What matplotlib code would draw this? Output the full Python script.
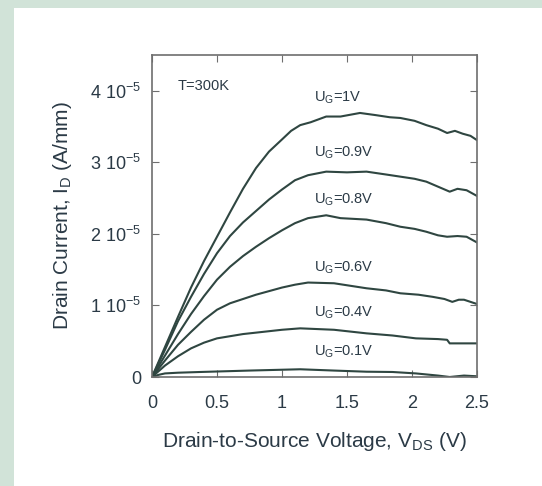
import numpy as np
import matplotlib
matplotlib.use("Agg")
import matplotlib.pyplot as plt
from matplotlib.patches import Rectangle

plt.rcParams['font.family'] = ['Liberation Sans', 'DejaVu Sans']
plt.rcParams['mathtext.fontset'] = 'custom'
plt.rcParams['mathtext.rm'] = 'Liberation Sans'
plt.rcParams['mathtext.it'] = 'Liberation Sans:italic'

# drain current curves, values in units of 1e-5 A/mm
x_1v = [0, 0.1, 0.2, 0.3, 0.4, 0.5, 0.6, 0.7, 0.8, 0.9, 1.0, 1.07, 1.14, 1.22, 1.34, 1.45, 1.60, 1.72, 1.83, 1.91, 2.02, 2.11, 2.20, 2.27, 2.33, 2.39, 2.45, 2.5]
y_1v = [0, 0.42, 0.84, 1.25, 1.62, 1.96, 2.30, 2.63, 2.92, 3.15, 3.32, 3.44, 3.52, 3.56, 3.64, 3.64, 3.69, 3.66, 3.63, 3.62, 3.58, 3.52, 3.47, 3.41, 3.44, 3.40, 3.37, 3.31]

x_09v = [0, 0.1, 0.2, 0.3, 0.4, 0.5, 0.6, 0.7, 0.8, 0.9, 1.0, 1.1, 1.2, 1.34, 1.50, 1.65, 1.80, 1.91, 2.02, 2.11, 2.20, 2.29, 2.35, 2.42, 2.5]
y_09v = [0, 0.38, 0.78, 1.12, 1.44, 1.73, 1.97, 2.16, 2.32, 2.48, 2.62, 2.75, 2.82, 2.87, 2.86, 2.87, 2.83, 2.80, 2.77, 2.73, 2.66, 2.59, 2.63, 2.61, 2.53]

x_08v = [0, 0.1, 0.2, 0.3, 0.4, 0.5, 0.6, 0.7, 0.8, 0.9, 1.0, 1.1, 1.2, 1.34, 1.45, 1.65, 1.80, 1.91, 2.02, 2.11, 2.20, 2.27, 2.35, 2.42, 2.5]
y_08v = [0, 0.30, 0.60, 0.88, 1.13, 1.36, 1.54, 1.69, 1.82, 1.94, 2.05, 2.15, 2.22, 2.26, 2.22, 2.20, 2.15, 2.10, 2.07, 2.03, 1.98, 1.96, 1.97, 1.96, 1.88]

x_06v = [0, 0.1, 0.2, 0.3, 0.4, 0.5, 0.6, 0.7, 0.8, 0.9, 1.0, 1.1, 1.2, 1.40, 1.65, 1.80, 1.91, 2.05, 2.16, 2.25, 2.31, 2.36, 2.40, 2.45, 2.5]
y_06v = [0, 0.23, 0.45, 0.63, 0.80, 0.94, 1.03, 1.09, 1.15, 1.20, 1.25, 1.29, 1.32, 1.31, 1.24, 1.21, 1.17, 1.15, 1.12, 1.09, 1.05, 1.08, 1.08, 1.05, 1.02]

x_04v = [0, 0.1, 0.2, 0.3, 0.4, 0.5, 0.6, 0.7, 0.8, 0.9, 1.0, 1.14, 1.40, 1.65, 1.85, 2.03, 2.20, 2.27, 2.29, 2.40, 2.5]
y_04v = [0, 0.16, 0.29, 0.40, 0.48, 0.54, 0.57, 0.60, 0.62, 0.64, 0.66, 0.68, 0.66, 0.61, 0.58, 0.54, 0.53, 0.52, 0.47, 0.47, 0.47]

x_01v = [0, 0.05, 0.1, 0.2, 0.37, 0.75, 1.14, 1.40, 1.65, 1.85, 2.03, 2.20, 2.29, 2.40, 2.5]
y_01v = [0, 0.03, 0.05, 0.06, 0.07, 0.09, 0.108, 0.09, 0.074, 0.07, 0.05, 0.02, 0.0, 0.02, 0.01]

curves = [(x_1v, y_1v), (x_09v, y_09v), (x_08v, y_08v),
          (x_06v, y_06v), (x_04v, y_04v), (x_01v, y_01v)]
labels = ['1V', '0.9V', '0.8V', '0.6V', '0.4V', '0.1V']
label_y = [3.90, 3.13, 2.48, 1.52, 0.895, 0.35]

xticks = [0, 0.5, 1, 1.5, 2, 2.5]
xticklabels = ['0', '0.5', '1', '1.5', '2', '2.5']
yticks = [0, 1e-5, 2e-5, 3e-5, 4e-5]
yticklabels = ['0', r'1 10$^{\mathregular{-5}}$', r'2 10$^{\mathregular{-5}}$',
               r'3 10$^{\mathregular{-5}}$', r'4 10$^{\mathregular{-5}}$']

txt = '#2b3a46'
line_col = '#2f4641'
frame = '#6e6e6e'

fig = plt.figure(figsize=(5.42, 4.86), dpi=100)
fig.patch.set_facecolor('#d1e3d8')
fig.patches.append(Rectangle((14/542, 0), 1 - 14/542, 478/486, transform=fig.transFigure,
                             facecolor='white', edgecolor='none', zorder=-1))
ax = fig.add_axes([152/542, 109/486, 325/542, 322/486])

for (xs, ys) in curves:
    ax.plot(xs, np.array(ys) * 1e-5, color=line_col, lw=1.5)

for lab, ly in zip(labels, label_y):
    ax.text(1.25, ly * 1e-5, r'U$_{\mathregular{G}}$=' + lab, fontsize=10.5, color=txt,
            ha='left', va='center')
ax.text(0.2, 4.06e-5, 'T=300K', fontsize=10.5, color=txt, ha='left', va='center')

ax.set_xlim(0, 2.5)
ax.set_ylim(0, 4.5e-5)
ax.set_xticks(xticks)
ax.set_xticklabels(xticklabels)
ax.set_yticks(yticks)
ax.set_yticklabels(yticklabels)
ax.tick_params(axis='x', direction='in', top=True, length=5, color=frame,
               labelsize=13, labelcolor=txt, pad=13)
ax.tick_params(axis='y', direction='in', right=True, length=5, color=frame,
               labelsize=13, labelcolor=txt, pad=8)
for s in ax.spines.values():
    s.set_color(frame)
    s.set_linewidth(1.2)

ax.text(0.5, -0.2, r'Drain-to-Source Voltage, V$_{\mathregular{DS}}$ (V)', transform=ax.transAxes,
        fontsize=15, color=txt, ha='center', va='center')
ax.text(-0.274, 0.5, r'Drain Current, I$_{\mathregular{D}}$ (A/mm)', transform=ax.transAxes,
        fontsize=15, color=txt, ha='center', va='center', rotation=90)

fig.savefig('out.png', dpi=100, facecolor=fig.get_facecolor())
